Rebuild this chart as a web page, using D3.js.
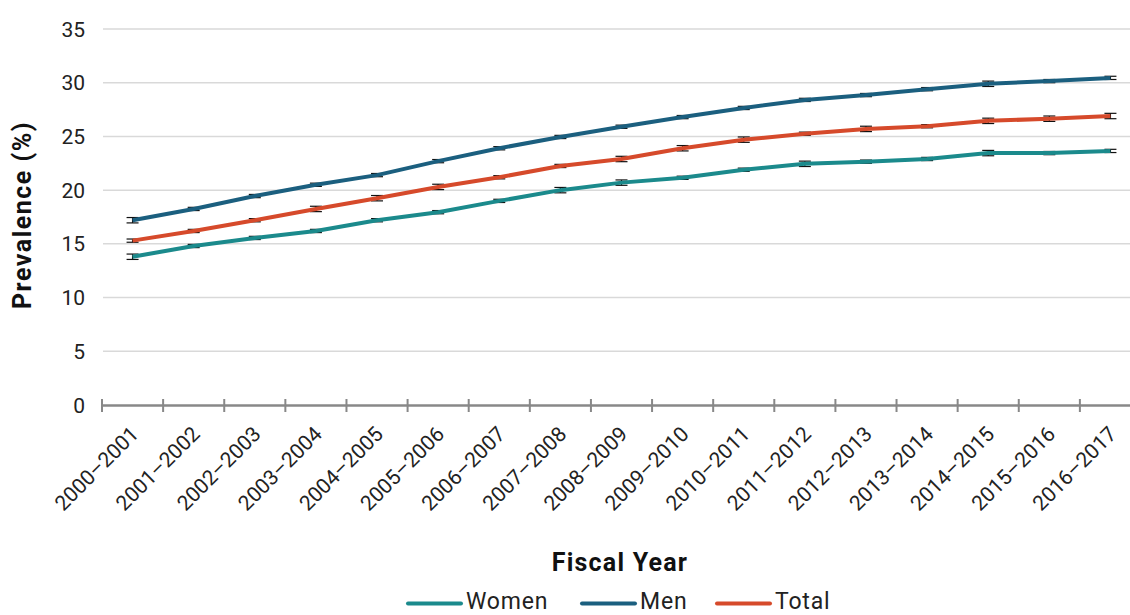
<!DOCTYPE html>
<html>
<head>
<meta charset="utf-8">
<script src="https://cdn.jsdelivr.net/npm/d3@7"></script>
<style>
  body { margin: 0; background: #fff; }
  svg { display: block; font-family: Roboto, "DejaVu Sans", sans-serif; }
</style>
</head>
<body>
<svg id="chart" width="1130" height="615"></svg>
<script>
const categories = ["2000–2001","2001–2002","2002–2003","2003–2004","2004–2005","2005–2006","2006–2007","2007–2008","2008–2009","2009–2010","2010–2011","2011–2012","2012–2013","2013–2014","2014–2015","2015–2016","2016–2017"];
const women = [13.8,14.8,15.55,16.2,17.2,17.95,19.0,20.0,20.7,21.15,21.9,22.45,22.65,22.9,23.45,23.45,23.65];
const men   = [17.2,18.25,19.45,20.5,21.4,22.7,23.9,24.95,25.9,26.8,27.65,28.4,28.85,29.4,29.9,30.15,30.45];
const total = [15.3,16.2,17.2,18.25,19.25,20.3,21.2,22.25,22.9,23.9,24.7,25.25,25.7,25.95,26.45,26.65,26.9];
const errWomen = [0.25,0.15,0.15,0.15,0.15,0.15,0.15,0.25,0.25,0.15,0.15,0.25,0.15,0.15,0.25,0.15,0.15];
const errMen   = [0.25,0.15,0.15,0.15,0.15,0.15,0.15,0.15,0.15,0.15,0.15,0.15,0.15,0.15,0.25,0.15,0.15];
const errTotal = [0.15,0.15,0.15,0.25,0.25,0.25,0.15,0.15,0.25,0.25,0.25,0.15,0.25,0.15,0.25,0.25,0.25];
const yTicks = [0,5,10,15,20,25,30,35];
const seriesNames = ["Women","Men","Total"];
const seriesColors = ["#1b8a8c","#1b5f7f","#d64a2b"];

const series = [
  {name: seriesNames[0], values: women, err: errWomen, color: seriesColors[0]},
  {name: seriesNames[1], values: men, err: errMen, color: seriesColors[1]},
  {name: seriesNames[2], values: total, err: errTotal, color: seriesColors[2]}
];

const svg = d3.select("#chart");
const x = d3.scaleBand().domain(categories).range([102, 1141]);
const y = d3.scaleLinear().domain([0, 35]).range([405, 29]);
const cx = d => x(d) + x.bandwidth() / 2;

// gridlines
svg.append("g").selectAll("line").data(yTicks.filter(t => t > 0)).join("line")
  .attr("x1", 103).attr("x2", 1130)
  .attr("y1", d => y(d)).attr("y2", d => y(d))
  .attr("stroke", "#d9d9d9").attr("stroke-width", 1.5);

// y labels
svg.append("g").selectAll("text").data(yTicks).join("text")
  .attr("x", 85).attr("y", d => y(d))
  .attr("dy", "0.36em").attr("text-anchor", "end")
  .attr("font-size", 21).attr("fill", "#222")
  .text(d => d);

// x axis
const xAxis = svg.append("g");
xAxis.append("line").attr("x1", 102).attr("x2", 1130).attr("y1", 405.5).attr("y2", 405.5)
  .attr("stroke", "#888").attr("stroke-width", 2.5);
const boundaries = categories.map(c => x(c));
xAxis.selectAll("line.tick").data(boundaries).join("line").attr("class", "tick")
  .attr("x1", d => d).attr("x2", d => d).attr("y1", 399).attr("y2", 412)
  .attr("stroke", "#888").attr("stroke-width", 2);

xAxis.selectAll("text").data(categories).join("text")
  .attr("transform", d => `translate(${cx(d) - 3},${425}) rotate(-45)`)
  .attr("text-anchor", "end").attr("dy", "0.7em")
  .attr("font-size", 21).attr("fill", "#222")
  .text(d => d);

// error bars (under lines)
const eg = svg.append("g").attr("stroke", "#111").attr("stroke-width", 1.2);
series.forEach(s => {
  s.values.forEach((v, i) => {
    const px = cx(categories[i]);
    const lo = y(v - s.err[i]), hi = y(v + s.err[i]);
    eg.append("line").attr("x1", px).attr("x2", px).attr("y1", lo).attr("y2", hi);
    eg.append("line").attr("x1", px - 6).attr("x2", px + 6).attr("y1", lo).attr("y2", lo);
    eg.append("line").attr("x1", px - 6).attr("x2", px + 6).attr("y1", hi).attr("y2", hi);
  });
});

// lines
const line = d3.line().x((d, i) => cx(categories[i])).y(d => y(d));
svg.append("g").selectAll("path").data(series).join("path")
  .attr("d", s => line(s.values))
  .attr("fill", "none").attr("stroke", s => s.color)
  .attr("stroke-width", 4).attr("stroke-linejoin", "round").attr("stroke-linecap", "butt");

// axis titles
svg.append("text").attr("transform", "translate(31,215) rotate(-90)")
  .attr("text-anchor", "middle").attr("font-size", 25).attr("font-weight", "bold")
  .attr("letter-spacing", 1.5).attr("fill", "#111")
  .text("Prevalence (%)");
svg.append("text").attr("x", 620).attr("y", 571)
  .attr("text-anchor", "middle").attr("font-size", 25).attr("font-weight", "bold")
  .attr("letter-spacing", 1.2).attr("fill", "#111")
  .text("Fiscal Year");

// legend
const legendX = [408, 582, 717];
const lg = svg.append("g");
series.forEach((s, i) => {
  lg.append("line").attr("x1", legendX[i]).attr("x2", legendX[i] + 53)
    .attr("y1", 603.5).attr("y2", 603.5).attr("stroke", s.color).attr("stroke-width", 4).attr("stroke-linecap", "round");
  lg.append("text").attr("x", legendX[i] + 58).attr("y", 609)
    .attr("font-size", 23).attr("letter-spacing", 0.8).attr("fill", "#222").text(s.name);
});
</script>
</body>
</html>
